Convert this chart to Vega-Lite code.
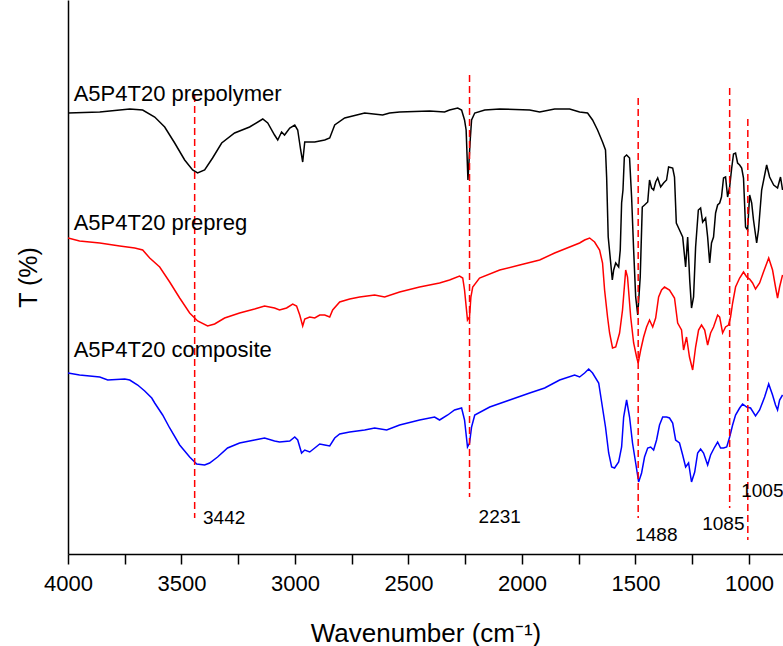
{
  "$schema": "https://vega.github.io/schema/vega-lite/v6.json",
  "width": 715,
  "height": 554,
  "autosize": {"type": "none"},
  "padding": {"left": 68, "top": 0, "right": 0, "bottom": 92},
  "background": "white",
  "config": {"view": {"stroke": null}, "font": "Liberation Sans"},
  "datasets": {
    "prepolymer": [
      {"w":4000,"T":441},{"w":3860,"T":442},{"w":3728,"T":445},{"w":3671,"T":444},{"w":3618,"T":437},{"w":3574,"T":427},{"w":3530,"T":411},{"w":3486,"T":394},{"w":3451,"T":384},{"w":3429,"T":381},{"w":3398,"T":384},{"w":3363,"T":396},{"w":3323,"T":411},{"w":3266,"T":421},{"w":3200,"T":427},{"w":3142,"T":435},{"w":3120,"T":431},{"w":3090,"T":419},{"w":3076,"T":414},{"w":3059,"T":422},{"w":3046,"T":419},{"w":3023,"T":426},{"w":3001,"T":429},{"w":2988,"T":424},{"w":2975,"T":404},{"w":2966,"T":392},{"w":2957,"T":412},{"w":2913,"T":412},{"w":2869,"T":414},{"w":2847,"T":416},{"w":2825,"T":429},{"w":2781,"T":436},{"w":2693,"T":441},{"w":2614,"T":439},{"w":2583,"T":441},{"w":2539,"T":442},{"w":2407,"T":443},{"w":2341,"T":442},{"w":2319,"T":444},{"w":2283,"T":446},{"w":2266,"T":444},{"w":2253,"T":434},{"w":2246,"T":424},{"w":2238,"T":374},{"w":2233,"T":394},{"w":2228,"T":414},{"w":2222,"T":434},{"w":2208,"T":441},{"w":2164,"T":444},{"w":2098,"T":445},{"w":1966,"T":444},{"w":1922,"T":442},{"w":1856,"T":445},{"w":1790,"T":445},{"w":1746,"T":442},{"w":1711,"T":441},{"w":1689,"T":434},{"w":1667,"T":424},{"w":1645,"T":412},{"w":1632,"T":404},{"w":1627,"T":377},{"w":1620,"T":317},{"w":1609,"T":291},{"w":1602,"T":274},{"w":1596,"T":284},{"w":1587,"T":291},{"w":1574,"T":287},{"w":1567,"T":304},{"w":1561,"T":351},{"w":1555,"T":364},{"w":1549,"T":397},{"w":1539,"T":399},{"w":1526,"T":396},{"w":1517,"T":357},{"w":1508,"T":304},{"w":1499,"T":257},{"w":1490,"T":239},{"w":1479,"T":277},{"w":1470,"T":347},{"w":1460,"T":349},{"w":1446,"T":352},{"w":1438,"T":374},{"w":1429,"T":366},{"w":1420,"T":364},{"w":1411,"T":372},{"w":1402,"T":376},{"w":1389,"T":367},{"w":1376,"T":371},{"w":1363,"T":374},{"w":1354,"T":387},{"w":1336,"T":386},{"w":1328,"T":377},{"w":1320,"T":331},{"w":1306,"T":324},{"w":1292,"T":317},{"w":1279,"T":287},{"w":1270,"T":317},{"w":1261,"T":274},{"w":1253,"T":246},{"w":1244,"T":257},{"w":1235,"T":307},{"w":1223,"T":344},{"w":1213,"T":346},{"w":1204,"T":332},{"w":1191,"T":336},{"w":1182,"T":317},{"w":1173,"T":291},{"w":1165,"T":311},{"w":1156,"T":317},{"w":1147,"T":341},{"w":1138,"T":349},{"w":1129,"T":351},{"w":1121,"T":357},{"w":1112,"T":376},{"w":1103,"T":377},{"w":1094,"T":357},{"w":1085,"T":367},{"w":1076,"T":386},{"w":1068,"T":400},{"w":1059,"T":401},{"w":1050,"T":391},{"w":1041,"T":389},{"w":1032,"T":386},{"w":1024,"T":376},{"w":1015,"T":327},{"w":1006,"T":324},{"w":997,"T":359},{"w":988,"T":351},{"w":980,"T":334},{"w":966,"T":311},{"w":958,"T":324},{"w":944,"T":364},{"w":922,"T":389},{"w":909,"T":377},{"w":891,"T":369},{"w":874,"T":366},{"w":861,"T":377},{"w":852,"T":364}
    ],
    "prepreg": [
      {"w":4000,"T":316},{"w":3949,"T":313},{"w":3860,"T":311},{"w":3772,"T":308},{"w":3706,"T":306},{"w":3671,"T":304},{"w":3640,"T":296},{"w":3596,"T":287},{"w":3552,"T":272},{"w":3508,"T":256},{"w":3464,"T":241},{"w":3429,"T":233},{"w":3385,"T":228},{"w":3354,"T":230},{"w":3310,"T":236},{"w":3244,"T":241},{"w":3178,"T":245},{"w":3134,"T":248},{"w":3090,"T":246},{"w":3068,"T":244},{"w":3037,"T":246},{"w":3010,"T":250},{"w":2993,"T":248},{"w":2979,"T":239},{"w":2966,"T":228},{"w":2957,"T":235},{"w":2935,"T":237},{"w":2913,"T":236},{"w":2891,"T":239},{"w":2869,"T":239},{"w":2847,"T":237},{"w":2834,"T":244},{"w":2803,"T":252},{"w":2759,"T":255},{"w":2715,"T":257},{"w":2649,"T":259},{"w":2605,"T":257},{"w":2539,"T":262},{"w":2451,"T":267},{"w":2363,"T":271},{"w":2319,"T":274},{"w":2275,"T":278},{"w":2261,"T":276},{"w":2253,"T":264},{"w":2240,"T":234},{"w":2231,"T":237},{"w":2225,"T":257},{"w":2217,"T":267},{"w":2187,"T":276},{"w":2098,"T":284},{"w":2010,"T":289},{"w":1922,"T":294},{"w":1856,"T":301},{"w":1790,"T":307},{"w":1746,"T":311},{"w":1724,"T":314},{"w":1702,"T":316},{"w":1680,"T":312},{"w":1658,"T":304},{"w":1645,"T":291},{"w":1636,"T":264},{"w":1623,"T":237},{"w":1614,"T":221},{"w":1601,"T":206},{"w":1587,"T":207},{"w":1570,"T":221},{"w":1557,"T":244},{"w":1543,"T":284},{"w":1535,"T":277},{"w":1521,"T":237},{"w":1508,"T":211},{"w":1495,"T":197},{"w":1488,"T":191},{"w":1477,"T":204},{"w":1464,"T":217},{"w":1451,"T":227},{"w":1438,"T":234},{"w":1424,"T":227},{"w":1411,"T":236},{"w":1398,"T":257},{"w":1385,"T":264},{"w":1372,"T":267},{"w":1350,"T":264},{"w":1328,"T":256},{"w":1314,"T":231},{"w":1297,"T":224},{"w":1288,"T":204},{"w":1275,"T":217},{"w":1262,"T":197},{"w":1248,"T":184},{"w":1235,"T":207},{"w":1222,"T":224},{"w":1209,"T":229},{"w":1195,"T":224},{"w":1182,"T":209},{"w":1169,"T":221},{"w":1156,"T":227},{"w":1138,"T":239},{"w":1129,"T":237},{"w":1116,"T":221},{"w":1103,"T":227},{"w":1090,"T":229},{"w":1081,"T":237},{"w":1072,"T":251},{"w":1059,"T":267},{"w":1041,"T":276},{"w":1024,"T":282},{"w":1010,"T":277},{"w":997,"T":275},{"w":984,"T":271},{"w":971,"T":265},{"w":953,"T":271},{"w":936,"T":282},{"w":913,"T":296},{"w":896,"T":284},{"w":883,"T":267},{"w":874,"T":256},{"w":865,"T":267},{"w":852,"T":279}
    ],
    "composite": [
      {"w":4000,"T":181},{"w":3949,"T":179},{"w":3860,"T":177},{"w":3825,"T":174},{"w":3750,"T":175},{"w":3728,"T":174},{"w":3693,"T":169},{"w":3662,"T":163},{"w":3631,"T":156},{"w":3618,"T":151},{"w":3583,"T":139},{"w":3552,"T":126},{"w":3508,"T":109},{"w":3464,"T":97},{"w":3433,"T":90},{"w":3398,"T":89},{"w":3376,"T":91},{"w":3341,"T":97},{"w":3297,"T":106},{"w":3244,"T":111},{"w":3178,"T":114},{"w":3134,"T":116},{"w":3090,"T":113},{"w":3068,"T":112},{"w":3023,"T":113},{"w":3001,"T":117},{"w":2988,"T":114},{"w":2971,"T":101},{"w":2957,"T":104},{"w":2935,"T":102},{"w":2913,"T":106},{"w":2891,"T":110},{"w":2869,"T":109},{"w":2847,"T":108},{"w":2825,"T":116},{"w":2803,"T":120},{"w":2759,"T":122},{"w":2693,"T":124},{"w":2649,"T":126},{"w":2596,"T":124},{"w":2539,"T":129},{"w":2451,"T":134},{"w":2385,"T":137},{"w":2363,"T":134},{"w":2327,"T":139},{"w":2297,"T":144},{"w":2266,"T":146},{"w":2253,"T":134},{"w":2240,"T":107},{"w":2231,"T":111},{"w":2222,"T":127},{"w":2208,"T":139},{"w":2142,"T":147},{"w":2054,"T":154},{"w":1966,"T":161},{"w":1900,"T":166},{"w":1834,"T":174},{"w":1768,"T":179},{"w":1746,"T":177},{"w":1724,"T":181},{"w":1706,"T":185},{"w":1689,"T":181},{"w":1662,"T":171},{"w":1632,"T":127},{"w":1618,"T":101},{"w":1605,"T":87},{"w":1592,"T":86},{"w":1574,"T":92},{"w":1561,"T":107},{"w":1552,"T":137},{"w":1539,"T":154},{"w":1526,"T":137},{"w":1513,"T":111},{"w":1499,"T":91},{"w":1486,"T":72},{"w":1473,"T":81},{"w":1460,"T":97},{"w":1446,"T":106},{"w":1433,"T":107},{"w":1420,"T":104},{"w":1407,"T":114},{"w":1394,"T":129},{"w":1380,"T":137},{"w":1363,"T":137},{"w":1350,"T":136},{"w":1336,"T":131},{"w":1323,"T":114},{"w":1306,"T":111},{"w":1292,"T":99},{"w":1279,"T":87},{"w":1266,"T":91},{"w":1253,"T":72},{"w":1239,"T":82},{"w":1226,"T":101},{"w":1213,"T":105},{"w":1200,"T":101},{"w":1182,"T":89},{"w":1169,"T":99},{"w":1151,"T":107},{"w":1138,"T":112},{"w":1125,"T":106},{"w":1112,"T":106},{"w":1098,"T":107},{"w":1085,"T":117},{"w":1072,"T":129},{"w":1059,"T":139},{"w":1041,"T":146},{"w":1028,"T":150},{"w":1010,"T":147},{"w":993,"T":146},{"w":971,"T":138},{"w":953,"T":144},{"w":931,"T":157},{"w":913,"T":170},{"w":896,"T":159},{"w":883,"T":149},{"w":874,"T":144},{"w":865,"T":154},{"w":852,"T":159}
    ],
    "peaks": [
      {"w":3442,"T":459,"T2":36},{"w":2231,"T":479,"T2":57},{"w":1488,"T":456,"T2":36},{"w":1085,"T":466,"T2":46},{"w":1005,"T":435,"T2":14}
    ],
    "peakLabels": [
      {"w":3405,"T":30,"label":"3442"},{"w":2191,"T":31,"label":"2231"},{"w":1501,"T":13,"label":"1488"},{"w":1206,"T":24,"label":"1085"},{"w":1034,"T":57,"label":"1005"}
    ],
    "seriesLabels": [
      {"w":3975,"T":453,"label":"A5P4T20 prepolymer"},{"w":3975,"T":324,"label":"A5P4T20 prepreg"},{"w":3975,"T":197,"label":"A5P4T20 composite"}
    ]
  },
  "layer": [
    {
      "data": {"name": "prepolymer"},
      "mark": {"type": "line", "color": "#000000", "strokeWidth": 1.5, "clip": true},
      "encoding": {
        "x": {
          "field": "w", "type": "quantitative",
          "scale": {"domain": [850, 4000], "reverse": true, "nice": false, "zero": false},
          "axis": {
            "title": "Wavenumber (cm⁻¹)",
            "values": [4000,3750,3500,3250,3000,2750,2500,2250,2000,1750,1500,1250,1000],
            "labelExpr": "datum.value % 500 === 0 ? format(datum.value, 'd') : ''",
            "grid": false,
            "domainColor": "#000000", "domainWidth": 1.5,
            "tickColor": "#000000", "tickWidth": 1.5, "tickSize": 10,
            "labelFont": "Liberation Sans", "labelFontSize": 22, "labelColor": "#000000",
            "labelPadding": 9, "labelFlush": false, "labelOverlap": false,
            "titleFont": "Liberation Sans", "titleFontSize": 26, "titleFontWeight": "normal",
            "titleColor": "#000000", "titlePadding": 26,
            "encode": {"ticks": {"update": {"y2": {"signal": "datum.value % 500 === 0 ? 10 : 6"}}}}
          }
        },
        "y": {
          "field": "T", "type": "quantitative",
          "scale": {"domain": [0, 554], "nice": false, "zero": false},
          "axis": {
            "title": "T (%)", "ticks": false, "labels": false, "grid": false,
            "domainColor": "#000000", "domainWidth": 1.5,
            "titleFont": "Liberation Sans", "titleFontSize": 25, "titleFontWeight": "normal",
            "titleColor": "#000000", "titlePadding": 27
          }
        }
      }
    },
    {
      "data": {"name": "prepreg"},
      "mark": {"type": "line", "color": "#ff0000", "strokeWidth": 1.5, "clip": true},
      "encoding": {
        "x": {"field": "w", "type": "quantitative"},
        "y": {"field": "T", "type": "quantitative"}
      }
    },
    {
      "data": {"name": "composite"},
      "mark": {"type": "line", "color": "#0000ff", "strokeWidth": 1.5, "clip": true},
      "encoding": {
        "x": {"field": "w", "type": "quantitative"},
        "y": {"field": "T", "type": "quantitative"}
      }
    },
    {
      "data": {"name": "peaks"},
      "mark": {"type": "rule", "color": "#ff0000", "strokeWidth": 1.5, "strokeDash": [7, 4]},
      "encoding": {
        "x": {"field": "w", "type": "quantitative"},
        "y": {"field": "T", "type": "quantitative"},
        "y2": {"field": "T2"}
      }
    },
    {
      "data": {"name": "peakLabels"},
      "mark": {"type": "text", "align": "left", "baseline": "alphabetic", "font": "Liberation Sans", "fontSize": 19, "color": "#000000"},
      "encoding": {
        "x": {"field": "w", "type": "quantitative"},
        "y": {"field": "T", "type": "quantitative"},
        "text": {"field": "label"}
      }
    },
    {
      "data": {"name": "seriesLabels"},
      "mark": {"type": "text", "align": "left", "baseline": "alphabetic", "font": "Liberation Sans", "fontSize": 22, "color": "#000000"},
      "encoding": {
        "x": {"field": "w", "type": "quantitative"},
        "y": {"field": "T", "type": "quantitative"},
        "text": {"field": "label"}
      }
    }
  ]
}
